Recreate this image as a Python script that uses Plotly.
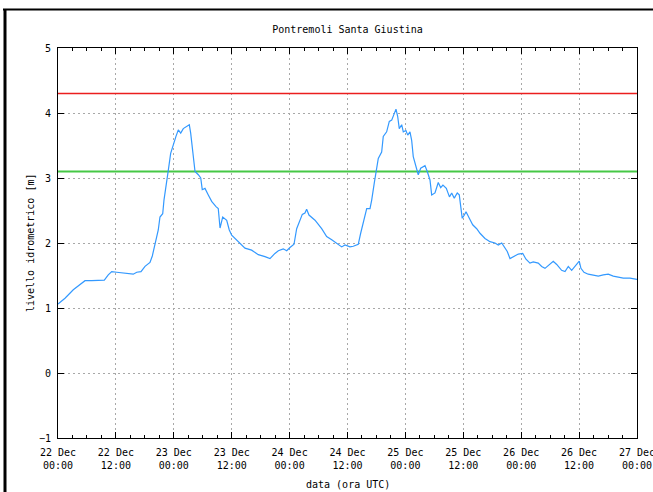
import plotly.graph_objects as go

# ---- data ----
times = [
    "2019-12-22 00:00", "2019-12-22 01:27", "2019-12-22 03:10", "2019-12-22 04:34", "2019-12-22 05:36",
    "2019-12-22 07:00", "2019-12-22 08:21", "2019-12-22 09:36", "2019-12-22 10:25", "2019-12-22 11:08",
    "2019-12-22 12:10", "2019-12-22 13:53", "2019-12-22 15:36", "2019-12-22 16:19", "2019-12-22 17:12",
    "2019-12-22 18:02", "2019-12-22 19:04", "2019-12-22 19:33", "2019-12-22 20:06", "2019-12-22 20:47",
    "2019-12-22 21:08", "2019-12-22 21:42", "2019-12-22 21:58", "2019-12-22 22:32", "2019-12-22 22:52",
    "2019-12-22 23:21", "2019-12-22 23:54", "2019-12-23 00:27", "2019-12-23 00:56", "2019-12-23 01:26",
    "2019-12-23 01:58", "2019-12-23 02:40", "2019-12-23 03:13", "2019-12-23 03:30", "2019-12-23 03:55",
    "2019-12-23 04:24", "2019-12-23 05:05", "2019-12-23 05:35", "2019-12-23 05:54", "2019-12-23 06:28",
    "2019-12-23 07:09", "2019-12-23 07:51", "2019-12-23 08:45", "2019-12-23 09:13", "2019-12-23 09:35",
    "2019-12-23 10:08", "2019-12-23 10:58", "2019-12-23 11:30", "2019-12-23 12:00", "2019-12-23 13:02",
    "2019-12-23 13:43", "2019-12-23 14:45", "2019-12-23 16:08", "2019-12-23 17:31", "2019-12-23 18:54",
    "2019-12-23 19:56", "2019-12-23 20:58", "2019-12-23 21:40", "2019-12-23 22:41", "2019-12-23 23:24",
    "2019-12-24 00:05", "2019-12-24 00:55", "2019-12-24 01:28", "2019-12-24 02:10", "2019-12-24 02:38",
    "2019-12-24 03:11", "2019-12-24 03:32", "2019-12-24 04:01", "2019-12-24 04:35", "2019-12-24 05:16",
    "2019-12-24 06:39", "2019-12-24 07:41", "2019-12-24 08:44", "2019-12-24 09:46", "2019-12-24 10:48",
    "2019-12-24 11:29", "2019-12-24 12:31", "2019-12-24 13:12", "2019-12-24 14:14", "2019-12-24 14:44",
    "2019-12-24 15:17", "2019-12-24 15:59", "2019-12-24 16:40", "2019-12-24 17:01", "2019-12-24 17:33",
    "2019-12-24 18:03", "2019-12-24 18:23", "2019-12-24 19:05", "2019-12-24 19:25", "2019-12-24 20:07",
    "2019-12-24 20:40", "2019-12-24 21:10", "2019-12-24 21:38", "2019-12-24 22:03", "2019-12-24 22:24",
    "2019-12-24 22:44", "2019-12-24 23:14", "2019-12-24 23:34", "2019-12-25 00:07", "2019-12-25 00:29",
    "2019-12-25 00:57", "2019-12-25 01:18", "2019-12-25 01:38", "2019-12-25 02:12", "2019-12-25 02:40",
    "2019-12-25 03:10", "2019-12-25 04:04", "2019-12-25 04:32", "2019-12-25 05:06", "2019-12-25 05:27",
    "2019-12-25 06:08", "2019-12-25 06:49", "2019-12-25 07:19", "2019-12-25 07:47", "2019-12-25 08:29",
    "2019-12-25 09:08", "2019-12-25 09:36", "2019-12-25 10:08", "2019-12-25 10:45", "2019-12-25 11:10",
    "2019-12-25 11:28", "2019-12-25 11:47", "2019-12-25 12:13", "2019-12-25 12:34", "2019-12-25 13:15",
    "2019-12-25 13:57", "2019-12-25 14:47", "2019-12-25 15:28", "2019-12-25 16:30", "2019-12-25 17:32",
    "2019-12-25 18:34", "2019-12-25 19:15", "2019-12-25 19:58", "2019-12-25 20:26", "2019-12-25 21:07",
    "2019-12-25 21:41", "2019-12-25 22:43", "2019-12-25 23:24", "2019-12-26 00:19", "2019-12-26 01:00",
    "2019-12-26 01:49", "2019-12-26 02:30", "2019-12-26 03:32", "2019-12-26 04:15", "2019-12-26 04:56",
    "2019-12-26 05:37", "2019-12-26 06:39", "2019-12-26 07:22", "2019-12-26 08:23", "2019-12-26 09:05",
    "2019-12-26 09:46", "2019-12-26 10:28", "2019-12-26 11:09", "2019-12-26 11:50", "2019-12-26 12:02",
    "2019-12-26 12:23", "2019-12-26 13:01", "2019-12-26 13:54", "2019-12-26 14:56", "2019-12-26 15:59",
    "2019-12-26 17:01", "2019-12-26 18:03", "2019-12-26 19:05", "2019-12-26 20:08", "2019-12-26 21:10",
    "2019-12-26 22:33", "2019-12-27 00:00",
]
levels = [
    1.06, 1.15, 1.28, 1.36, 1.42,
    1.42, 1.42, 1.43, 1.51, 1.56,
    1.55, 1.54, 1.52, 1.55, 1.56,
    1.64, 1.70, 1.80, 1.97, 2.20,
    2.40, 2.45, 2.66, 2.92, 3.12,
    3.38, 3.53, 3.64, 3.74, 3.69,
    3.76, 3.79, 3.82, 3.69, 3.43,
    3.10, 3.05, 3.00, 2.82, 2.84,
    2.74, 2.64, 2.56, 2.53, 2.23,
    2.40, 2.35, 2.20, 2.12, 2.05,
    2.00, 1.92, 1.89, 1.82, 1.79,
    1.76, 1.84, 1.88, 1.91, 1.88,
    1.93, 1.98, 2.22, 2.35, 2.44,
    2.46, 2.52, 2.43, 2.40, 2.35,
    2.22, 2.10, 2.05, 2.00, 1.94,
    1.97, 1.94, 1.95, 1.98, 2.15,
    2.30, 2.53, 2.53, 2.66, 2.92,
    3.12, 3.30, 3.40, 3.64, 3.71,
    3.87, 3.89, 4.00, 4.06, 3.95,
    3.76, 3.82, 3.71, 3.73, 3.66,
    3.71, 3.58, 3.33, 3.18, 3.05,
    3.15, 3.19, 3.10, 2.97, 2.74,
    2.77, 2.93, 2.85, 2.89, 2.84,
    2.71, 2.77, 2.69, 2.77, 2.74,
    2.51, 2.38, 2.43, 2.48, 2.38,
    2.28, 2.22, 2.15, 2.07, 2.02,
    2.00, 1.97, 2.00, 1.95, 1.87,
    1.76, 1.80, 1.83, 1.84, 1.75,
    1.69, 1.71, 1.69, 1.64, 1.61,
    1.66, 1.72, 1.67, 1.58, 1.56,
    1.64, 1.58, 1.64, 1.69, 1.72,
    1.61, 1.55, 1.52, 1.50, 1.49,
    1.51, 1.52, 1.49, 1.47, 1.46,
    1.46, 1.44,
]
threshold_low = 3.1   # green
threshold_high = 4.3  # red

tick_times = [
    "2019-12-22 00:00", "2019-12-22 12:00", "2019-12-23 00:00", "2019-12-23 12:00",
    "2019-12-24 00:00", "2019-12-24 12:00", "2019-12-25 00:00", "2019-12-25 12:00",
    "2019-12-26 00:00", "2019-12-26 12:00", "2019-12-27 00:00",
]
tick_labels = [
    "22 Dec<br>00:00", "22 Dec<br>12:00", "23 Dec<br>00:00", "23 Dec<br>12:00",
    "24 Dec<br>00:00", "24 Dec<br>12:00", "25 Dec<br>00:00", "25 Dec<br>12:00",
    "26 Dec<br>00:00", "26 Dec<br>12:00", "27 Dec<br>00:00",
]
y_ticks = [-1, 0, 1, 2, 3, 4, 5]

FONT = "DejaVu Sans Mono"
GRID = "#a8a8a8"
X_RANGE = [tick_times[0], "2019-12-27 00:00:20"]
MINOR = 3 * 3600 * 1000

fig = go.Figure()
fig.add_trace(go.Scatter(
    x=[tick_times[0], tick_times[-1]], y=[threshold_high] * 2, mode="lines",
    line=dict(color="rgb(235,30,30)", width=1.5), showlegend=False, hoverinfo="skip",
))
fig.add_trace(go.Scatter(
    x=[tick_times[0], tick_times[-1]], y=[threshold_low] * 2, mode="lines",
    line=dict(color="rgb(70,200,70)", width=1.8), showlegend=False, hoverinfo="skip",
))
fig.add_trace(go.Scatter(
    x=times, y=levels, mode="lines",
    line=dict(color="#3399ff", width=1.2),
    showlegend=False, hoverinfo="x+y",
))
# transparent copy carrying the top axis (tick marks on the top border)
fig.add_trace(go.Scatter(
    x=times, y=levels, xaxis="x2", mode="lines",
    line=dict(color="rgba(0,0,0,0)", width=0), showlegend=False, hoverinfo="skip",
))

fig.update_layout(
    width=653, height=492,
    margin=dict(l=58, r=16, t=48, b=54, autoexpand=False),
    paper_bgcolor="white", plot_bgcolor="white",
    font=dict(family=FONT, size=10, color="black"),
    title=dict(text="Pontremoli Santa Giustina", x=0.5, xref="paper",
               y=1 - 29 / 492, yanchor="middle", yref="container",
               font=dict(family=FONT, size=10, color="black")),
    showlegend=False,
    xaxis=dict(
        type="date", range=X_RANGE,
        tickvals=tick_times, ticktext=tick_labels,
        ticks="inside", ticklen=6, tickcolor="black", tickwidth=1,
        minor=dict(dtick=MINOR, ticks="inside", ticklen=3, tickcolor="black", showgrid=False),
        showgrid=True, gridcolor=GRID, griddash="2px,3px", gridwidth=1,
        showline=True, linecolor="black", linewidth=1, mirror=True,
        zeroline=False, tickfont=dict(family=FONT, size=10),
        ticklabelstandoff=5, ticklabeloverflow="allow", automargin=False,
    ),
    xaxis2=dict(
        type="date", overlaying="x", side="top", anchor="y", range=X_RANGE,
        tickvals=tick_times, showticklabels=False,
        ticks="inside", ticklen=6, tickcolor="black", tickwidth=1,
        minor=dict(dtick=MINOR, ticks="inside", ticklen=3, tickcolor="black", showgrid=False),
        showgrid=False, showline=False, zeroline=False, automargin=False,
    ),
    yaxis=dict(
        range=[-1, 5], tickvals=y_ticks, ticktext=["\u22121" if v < 0 else str(v) for v in y_ticks],
        ticks="inside", ticklen=6, tickcolor="black", tickwidth=1,
        showgrid=True, gridcolor=GRID, griddash="2px,3px", gridwidth=1,
        showline=True, linecolor="black", linewidth=1, mirror="ticks",
        zeroline=False, tickfont=dict(family=FONT, size=10), ticklabelstandoff=4,
        automargin=False,
    ),
)

# axis titles
fig.add_annotation(text="data (ora UTC)", x=0.5, xref="paper", y=(438 - 484) / 390, yref="paper",
                   showarrow=False, yanchor="middle", font=dict(family=FONT, size=10))
fig.add_annotation(text="livello idrometrico [m]", x=(30 - 58) / 579, xref="paper", y=0.5, yref="paper",
                   showarrow=False, textangle=-90, xanchor="center", yanchor="middle",
                   font=dict(family=FONT, size=10))

# frame of the picture (top and left black border)
fig.add_shape(type="line", xref="paper", yref="paper",
              x0=(3 - 58) / 579, x1=(653 - 58) / 579, y0=(438 - 9.5) / 390, y1=(438 - 9.5) / 390,
              line=dict(color="black", width=2))
fig.add_shape(type="line", xref="paper", yref="paper",
              x0=(5 - 58) / 579, x1=(5 - 58) / 579, y0=(438 - 9) / 390, y1=(438 - 495) / 390,
              line=dict(color="black", width=3))

fig.write_html("out.html")
